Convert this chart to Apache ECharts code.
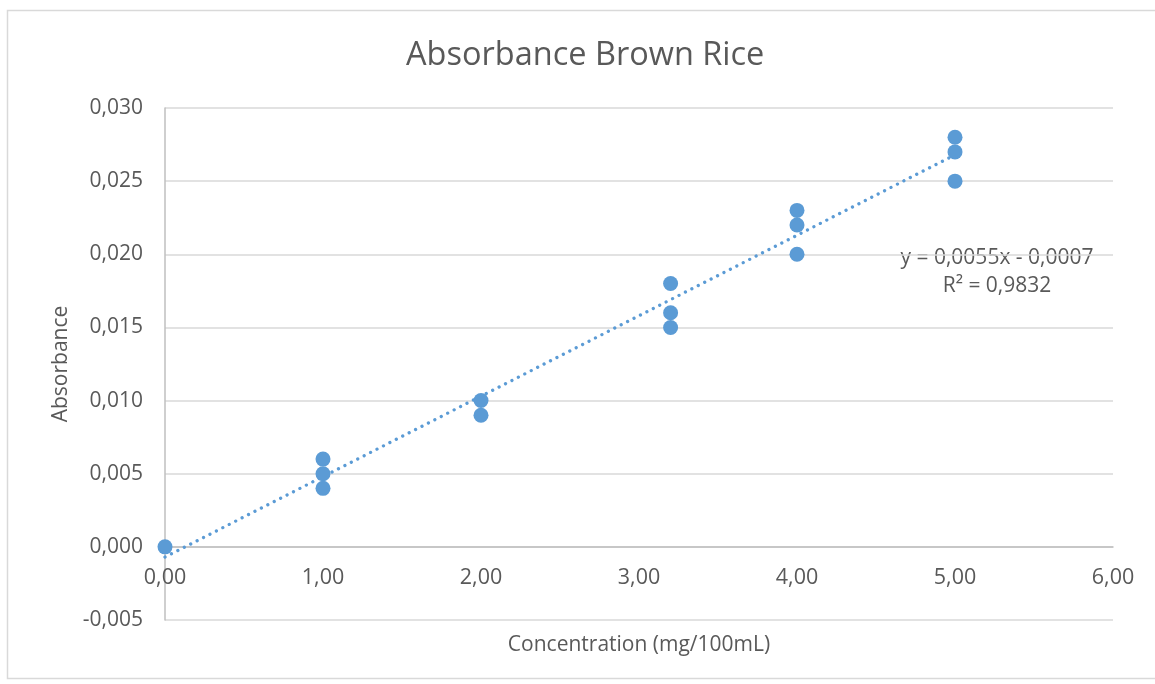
<!DOCTYPE html>
<html>
<head>
<meta charset="utf-8">
<script src="https://cdn.jsdelivr.net/npm/echarts@6/dist/echarts.min.js"></script>
<style>
  html, body { margin: 0; padding: 0; background: #fff; }
  #chart { width: 1155px; height: 684px; }
</style>
</head>
<body>
<div id="chart"></div>
<script>
// 测量数据 (mg/100mL, absorbance)
const concentration = [0, 1, 1, 1, 2, 2, 3.2, 3.2, 3.2, 4, 4, 4, 5, 5, 5]
const absorbance = [0, 0.006, 0.005, 0.004, 0.010, 0.009, 0.018, 0.016, 0.015, 0.023, 0.022, 0.020, 0.028, 0.027, 0.025]
// 趋势线 y = 0,0055x - 0,0007
const trendX = [0, 5]
const trendY = [-0.0007, 0.0268]
const trendLabel = 'y = 0,0055x - 0,0007\nR² = 0,9832'

const FONT = 'Open Sans'
const TXT = '#595959'
const BLUE = '#5B9BD5'

const myChart = echarts.init(document.getElementById('chart'))

myChart.setOption({
  animation: false,
  textStyle: { fontFamily: FONT },
  title: {
    text: 'Absorbance Brown Rice',
    left: 401,
    top: 34,
    textStyle: { fontFamily: FONT, fontSize: 32.5, fontWeight: 'normal', color: TXT }
  },
  grid: { left: 165, right: 42, top: 108, bottom: 64, outerBoundsMode: 'none' },
  xAxis: {
    type: 'value',
    min: 0,
    max: 6,
    interval: 1,
    // 把x轴移到 y=0 的位置
    offset: -73,
    name: 'Concentration (mg/100mL)',
    nameLocation: 'middle',
    nameGap: 88,
    nameTextStyle: { fontSize: 21, color: TXT },
    axisLine: { onZero: false, lineStyle: { color: '#bfbfbf', width: 1.5 } },
    axisTick: { show: false },
    splitLine: { show: false },
    axisLabel: {
      fontSize: 21.5,
      color: TXT,
      margin: 20,
      formatter: v => v.toFixed(2).replace('.', ',')
    }
  },
  yAxis: {
    type: 'value',
    min: -0.005,
    max: 0.03,
    interval: 0.005,
    name: 'Absorbance',
    nameLocation: 'middle',
    nameGap: 93,
    nameTextStyle: { fontSize: 21, color: TXT },
    axisLine: { show: true, onZero: false, lineStyle: { color: '#bfbfbf', width: 1.5 } },
    axisTick: { show: false },
    splitLine: { lineStyle: { color: '#d9d9d9', width: 1.5 } },
    axisLabel: {
      fontSize: 21,
      color: TXT,
      margin: 22,
      formatter: v => v.toFixed(3).replace('.', ',')
    }
  },
  graphic: [
    {
      type: 'rect',
      silent: true,
      shape: { x: 7.5, y: 10.5, width: 1160, height: 668 },
      style: { fill: 'none', stroke: '#d9d9d9', lineWidth: 1.5 }
    },
    {
      type: 'text',
      x: 997,
      y: 272,
      style: {
        text: trendLabel,
        fontFamily: FONT,
        fontSize: 21,
        lineHeight: 28,
        fill: TXT,
        align: 'center',
        verticalAlign: 'middle'
      }
    }
  ],
  series: [
    {
      type: 'line',
      data: trendX.map((x, i) => [x, trendY[i]]),
      symbol: 'none',
      z: 3,
      lineStyle: { color: BLUE, width: 3.3, type: [0.01, 7.2], cap: 'round' }
    },
    {
      type: 'scatter',
      data: concentration.map((x, i) => [x, absorbance[i]]),
      symbolSize: 15,
      z: 4,
      itemStyle: { color: BLUE, opacity: 1 }
    }
  ]
})

window.addEventListener('resize', function () {
  myChart.resize()
})
</script>
</body>
</html>
